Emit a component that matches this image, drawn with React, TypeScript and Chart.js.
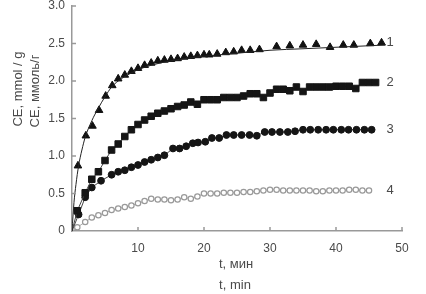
import React, { useEffect, useRef } from 'react';
import { Chart, registerables } from 'chart.js';
Chart.register(...registerables);

const W = 426;
const H = 294;

// Fitted curve for series 1
const fitT = [0, 0.3, 0.6, 1, 1.5, 2, 3, 4, 5, 6, 7, 8, 10, 12, 15, 20, 25, 30, 35, 40, 47.5];
const fitCE = [0, 0.38, 0.62, 0.87, 1.08, 1.25, 1.47, 1.64, 1.79, 1.92, 2.0, 2.06, 2.15, 2.21, 2.27, 2.33, 2.37, 2.41, 2.43, 2.45, 2.48];

// Series 1 (triangles)
const t1 = [0.9, 2.1, 3.1, 4.1, 5.1, 6.1, 7, 8, 9, 10, 11, 12, 13, 14, 15, 16, 17, 18, 19, 20, 20.8, 22, 23.3, 24.5, 25.7, 27, 28.4, 31, 33, 35, 37, 39.1, 41.1, 42.7, 45.2, 46.9];
const ce1 = [0.87, 1.27, 1.40, 1.61, 1.80, 1.94, 2.03, 2.08, 2.13, 2.17, 2.21, 2.24, 2.27, 2.28, 2.29, 2.30, 2.32, 2.33, 2.34, 2.35, 2.35, 2.36, 2.38, 2.39, 2.41, 2.41, 2.42, 2.46, 2.47, 2.48, 2.49, 2.45, 2.48, 2.48, 2.50, 2.51];

// Series 2 (squares)
const t2 = [0.8, 2, 3, 4, 5, 6, 7, 8, 9, 10, 11, 12, 13, 14, 15, 16, 17, 18, 19, 20, 21, 22, 23, 24, 25, 26, 27, 28, 29, 30, 31, 32, 33, 34, 35, 36, 37, 38, 39, 40, 41, 42, 43, 44, 45, 46];
const ce2 = [0.27, 0.51, 0.69, 0.79, 0.94, 1.08, 1.16, 1.26, 1.35, 1.42, 1.48, 1.53, 1.57, 1.60, 1.63, 1.66, 1.68, 1.72, 1.69, 1.75, 1.75, 1.75, 1.78, 1.78, 1.78, 1.80, 1.83, 1.83, 1.78, 1.84, 1.89, 1.89, 1.87, 1.92, 1.86, 1.92, 1.92, 1.92, 1.92, 1.93, 1.93, 1.93, 1.90, 1.98, 1.98, 1.98];

// Series 3 (circles)
const t3 = [1.0, 2.0, 3.0, 4.4, 6.0, 7.0, 8.0, 9.0, 10, 11, 12, 13, 14, 15.3, 16.3, 17.3, 18.3, 19.1, 20.2, 21.2, 22.3, 23.4, 24.5, 25.7, 26.9, 28.0, 29.2, 30.3, 31.5, 32.7, 33.8, 35.0, 36.1, 37.3, 38.5, 39.6, 40.8, 41.9, 43.1, 44.3, 45.4];
const ce3 = [0.22, 0.45, 0.58, 0.67, 0.75, 0.79, 0.81, 0.85, 0.88, 0.92, 0.95, 0.98, 1.01, 1.10, 1.10, 1.13, 1.17, 1.18, 1.19, 1.24, 1.24, 1.28, 1.28, 1.28, 1.28, 1.27, 1.32, 1.32, 1.32, 1.32, 1.33, 1.35, 1.35, 1.35, 1.35, 1.35, 1.35, 1.35, 1.35, 1.35, 1.35];

// Series 4 (open markers)
const t4 = [0.8, 2, 3, 4, 5, 6, 7, 8, 9, 10, 11, 12, 13, 14, 15, 16, 17, 18, 19, 20, 21, 22, 23, 24, 25, 26, 27, 28, 29, 30, 31, 32, 33, 34, 35, 36, 37, 38, 39, 40, 41, 42, 43, 44, 45];
const ce4 = [0.05, 0.12, 0.18, 0.21, 0.24, 0.28, 0.30, 0.32, 0.34, 0.37, 0.40, 0.43, 0.42, 0.42, 0.41, 0.42, 0.45, 0.43, 0.46, 0.50, 0.50, 0.50, 0.51, 0.51, 0.51, 0.52, 0.52, 0.53, 0.54, 0.55, 0.55, 0.54, 0.54, 0.54, 0.54, 0.54, 0.53, 0.53, 0.54, 0.54, 0.54, 0.55, 0.55, 0.54, 0.54];

const seriesNames = ['1', '2', '3', '4'];
const yTitleEn = 'CE, mmol / g';
const yTitleRu = 'CE, ммоль/г';
const xTitleRu = 't, мин';
const xTitleEn = 't, min';

const FONT = '"Liberation Sans", Arial, sans-serif';
const TXT = '#4a4a4a';
const AX = '#999';

const pts = (t: number[], v: number[], origin: boolean) => {
  const arr = t.map((x, i) => ({ x, y: v[i] }));
  return origin ? [{ x: 0, y: 0 }, ...arr] : arr;
};

export default function App() {
  const ref = useRef<HTMLCanvasElement>(null);
  useEffect(() => {
    const canvas = ref.current!;
    const hideFirst = (r: number) => (ctx: any) => (ctx.dataIndex === 0 ? 0 : r);
    const decor = {
      id: 'decor',
      afterDraw(chart: any) {
        const { ctx, scales } = chart;
        const xs = scales.x;
        const ys = scales.y;
        const area = chart.chartArea;
        ctx.save();
        ctx.strokeStyle = AX;
        ctx.lineWidth = 1.5;
        for (let v = 10; v <= 50; v += 10) {
          const px = xs.getPixelForValue(v);
          ctx.beginPath();
          ctx.moveTo(px, area.bottom);
          ctx.lineTo(px, area.bottom - 4);
          ctx.stroke();
        }
        for (let v = 0.5; v <= 3.0001; v += 0.5) {
          const py = ys.getPixelForValue(v);
          ctx.beginPath();
          ctx.moveTo(area.left, py);
          ctx.lineTo(area.left + 4, py);
          ctx.stroke();
        }
        ctx.fillStyle = TXT;
        ctx.font = `13px ${FONT}`;
        ctx.textAlign = 'center';
        ctx.textBaseline = 'middle';
        const lastVals = [ce1[ce1.length - 1], ce2[ce2.length - 1], ce3[ce3.length - 1], ce4[ce4.length - 1]];
        seriesNames.forEach((n, i) => {
          ctx.fillText(n, xs.getPixelForValue(48.2), ys.getPixelForValue(lastVals[i]));
        });
        // axis titles
        ctx.font = `13px ${FONT}`;
        ctx.fillText(xTitleRu, 236, 264);
        ctx.fillText(xTitleEn, 235, 285);
        ctx.save();
        ctx.translate(18, 89);
        ctx.rotate(-Math.PI / 2);
        ctx.fillText(yTitleEn, 0, 0);
        ctx.restore();
        ctx.save();
        ctx.translate(35, 91);
        ctx.rotate(-Math.PI / 2);
        ctx.fillText(yTitleRu, 0, 0);
        ctx.restore();
        ctx.restore();
      },
    };
    const chart = new Chart(canvas, {
      type: 'scatter',
      data: {
        datasets: [
          {
            label: 'fit',
            data: pts(fitT, fitCE, false),
            showLine: true,
            borderColor: '#222',
            borderWidth: 1,
            pointRadius: 0,
            cubicInterpolationMode: 'monotone',
          } as any,
          {
            label: '1',
            data: pts(t1, ce1, false),
            showLine: false,
            pointStyle: 'triangle',
            pointRadius: 4.4,
            backgroundColor: '#111',
            borderColor: '#111',
            borderWidth: 1,
          },
          {
            label: '2',
            data: pts(t2, ce2, true),
            showLine: true,
            borderColor: '#444',
            borderWidth: 1,
            pointStyle: 'rect',
            pointRadius: hideFirst(4.6) as any,
            backgroundColor: '#151515',
            pointBorderColor: '#151515',
          } as any,
          {
            label: '3',
            data: pts(t3, ce3, true),
            showLine: true,
            borderColor: '#444',
            borderWidth: 1,
            pointStyle: 'circle',
            pointRadius: hideFirst(3.4) as any,
            backgroundColor: '#151515',
            pointBorderColor: '#151515',
          } as any,
          {
            label: '4',
            data: pts(t4, ce4, true),
            showLine: true,
            borderColor: '#aaa',
            borderWidth: 1,
            pointStyle: 'circle',
            pointRadius: hideFirst(2.7) as any,
            backgroundColor: '#fff',
            pointBorderColor: '#999',
            pointBorderWidth: 1.2,
          } as any,
        ],
      },
      options: {
        responsive: false,
        animation: false,
        layout: { padding: { top: 6, right: 24, left: 0, bottom: 0 } },
        plugins: { legend: { display: false }, tooltip: { enabled: false } },
        scales: {
          x: {
            type: 'linear',
            min: 0,
            max: 50,
            grid: { display: true, drawOnChartArea: false, drawTicks: false },
            border: { display: true, color: AX, width: 1.5 },
            ticks: {
              stepSize: 10,
              padding: 10,
              color: TXT,
              font: { family: FONT, size: 12 },
              callback: (v: any) => (v === 0 ? '' : String(v)),
            },
            afterFit: (s: any) => {
              s.height = 63;
              s.paddingLeft = 0;
              s.paddingRight = 0;
            },
          },
          y: {
            type: 'linear',
            min: 0,
            max: 3,
            grid: { display: true, drawOnChartArea: false, drawTicks: false },
            border: { display: true, color: AX, width: 1.5 },
            ticks: {
              stepSize: 0.5,
              padding: 7,
              color: TXT,
              font: { family: FONT, size: 12 },
              callback: (v: any) => (v === 0 ? '0' : Number(v).toFixed(1)),
            },
            afterFit: (s: any) => {
              s.width = 72;
              s.paddingTop = 0;
              s.paddingBottom = 0;
            },
          },
        },
      },
      plugins: [decor],
    } as any);
    return () => chart.destroy();
  }, []);
  return (
    <div style={{ position: 'fixed', left: 0, top: 0, width: W, height: H, background: '#fff' }}>
      <canvas ref={ref} width={W} height={H} style={{ width: W, height: H, display: 'block' }} />
    </div>
  );
}
